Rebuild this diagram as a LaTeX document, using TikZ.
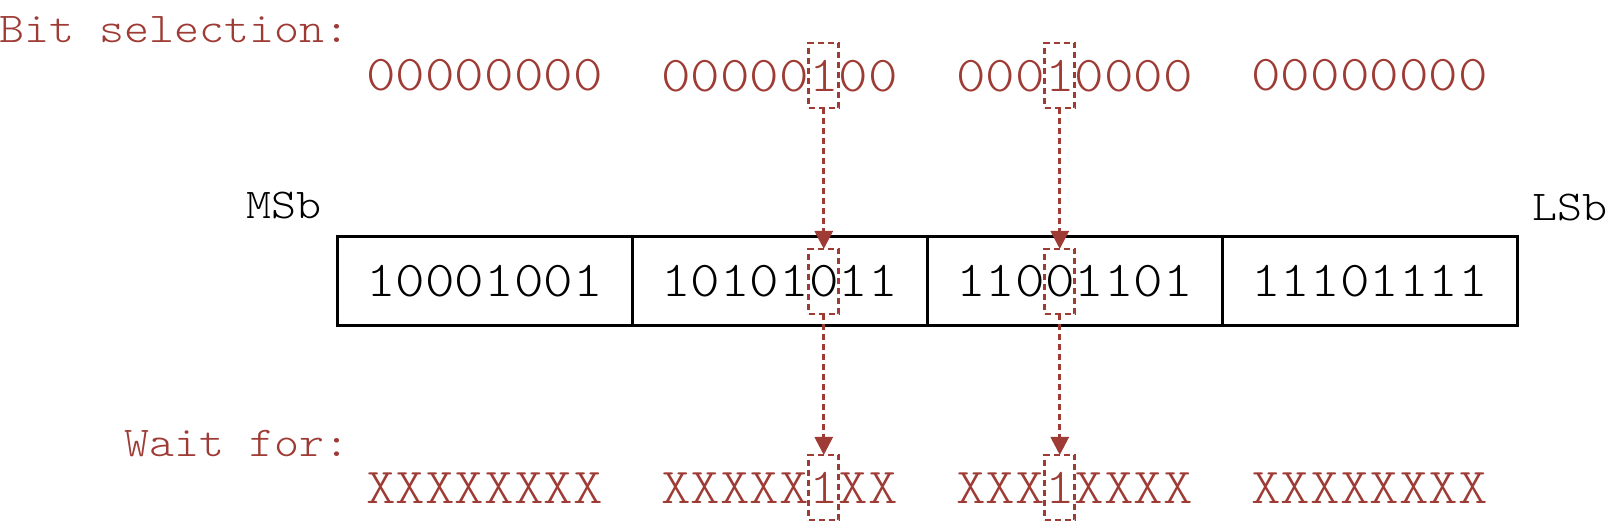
\documentclass[tikz,border=0pt]{standalone}
\usepackage{fontspec}
\usetikzlibrary{arrows.meta}
\newfontfamily\cfont[Extension=.otf,FakeStretch=1.12]{lmmonolt10-regular}
\definecolor{brick}{RGB}{158,59,53}
\tikzset{
  bits/.style={font=\cfont\fontsize{25.1pt}{30pt}\selectfont, inner sep=0pt, outer sep=0pt},
  lbl/.style={font=\cfont\fontsize{21.25pt}{25pt}\selectfont, inner sep=0pt, outer sep=0pt},
  cell/.style={bits, draw=black, line width=1.5pt, minimum width=147.5pt, minimum height=44.5pt},
  selbox/.style={bits, draw=brick, line width=1.4pt, dash pattern=on 3pt off 2pt, minimum width=15pt, minimum height=32.5pt},
  conn/.style={draw=brick, line width=1.4pt, dash pattern=on 3pt off 2pt, -{Triangle[length=9pt,width=9pt]}}
}
\begin{document}
\begin{tikzpicture}[x=0.5pt,y=-0.5pt]
\useasboundingbox (0,0) rectangle (1609,522);
% labels
\node[lbl,text=brick,anchor=base east] (bs) at (349,43) {Bit selection:};
\node[lbl,text=brick,anchor=base east] (wf) at (349,457) {Wait for:};
\node[lbl,anchor=base east] (msb) at (321,219) {MSb};
\node[lbl,anchor=base west] (lsb) at (1532,221) {LSb};
% top row
\node[bits,text=brick] (t1) at (484.5,75) {00000000};
\node[selbox,text=brick] (t2) at (823.75,75.5) {1};
\node[bits,text=brick,anchor=base east] (t2l) at (t2.base west) {00000};
\node[bits,text=brick,anchor=base west] (t2r) at (t2.base east) {00};
\node[selbox,text=brick] (t3) at (1059.75,75.5) {1};
\node[bits,text=brick,anchor=base east] (t3l) at (t3.base west) {000};
\node[bits,text=brick,anchor=base west] (t3r) at (t3.base east) {0000};
\node[bits,text=brick] (t4) at (1369.5,75) {00000000};
% register cells
\node[cell] (c1) at (484.5,281.5) {10001001};
\node[cell] (c2) at (779.5,281.5) {};
\node[cell] (c3) at (1074.5,281.5) {};
\node[cell] (c4) at (1369.5,281.5) {11101111};
\node[selbox,text=black] (m2) at (823.75,281.5) {0};
\node[bits,anchor=base east] (m2l) at (m2.base west) {10101};
\node[bits,anchor=base west] (m2r) at (m2.base east) {11};
\node[selbox,text=black] (m3) at (1059.75,281.5) {0};
\node[bits,anchor=base east] (m3l) at (m3.base west) {110};
\node[bits,anchor=base west] (m3r) at (m3.base east) {1101};
% bottom row
\node[bits,text=brick] (b1) at (484.5,488) {XXXXXXXX};
\node[selbox,text=brick] (b2) at (823.75,487.5) {1};
\node[bits,text=brick,anchor=base east] (b2l) at (b2.base west) {XXXXX};
\node[bits,text=brick,anchor=base west] (b2r) at (b2.base east) {XX};
\node[selbox,text=brick] (b3) at (1059.75,487.5) {1};
\node[bits,text=brick,anchor=base east] (b3l) at (b3.base west) {XXX};
\node[bits,text=brick,anchor=base west] (b3r) at (b3.base east) {XXXX};
\node[bits,text=brick] (b4) at (1369.5,488) {XXXXXXXX};
% connectors
\draw[conn] (t2.south) -- (m2.north);
\draw[conn] (m2.south) -- (b2.north);
\draw[conn] (t3.south) -- (m3.north);
\draw[conn] (m3.south) -- (b3.north);
\end{tikzpicture}
\end{document}
